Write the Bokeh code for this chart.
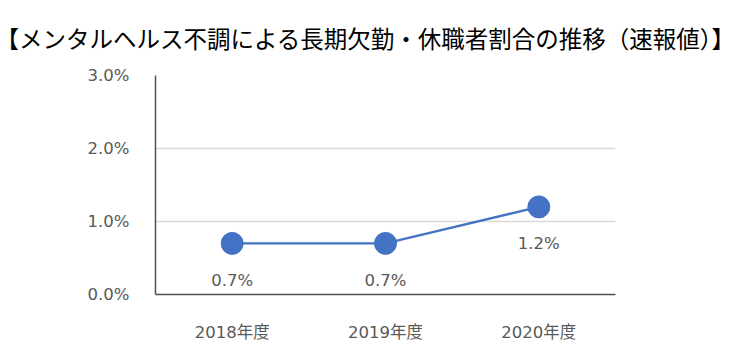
from bokeh.plotting import figure
from bokeh.models import ColumnDataSource, LabelSet, FixedTicker, PrintfTickFormatter, Title, Range1d
from bokeh.core.properties import value
from bokeh.embed import file_html
from bokeh.resources import INLINE

title_text = "【メンタルヘルス不調による長期欠勤・休職者割合の推移（速報値）】"
years = ["2018年度", "2019年度", "2020年度"]
rates = [0.7, 0.7, 1.2]
rate_labels = ["0.7%", "0.7%", "1.2%"]
y_ticks = [0, 1, 2, 3]

FONT = "DejaVu Sans, Noto Sans CJK JP"
TFONT = "Noto Sans CJK JP"
BLUE = "#4472C4"
GREY = "#595959"

src = ColumnDataSource(dict(x=years, y=rates, lab=rate_labels))

p = figure(width=734, height=355, x_range=years, y_range=Range1d(0, 3),
           output_backend="svg", toolbar_location=None,
           min_border_left=155, min_border_right=119, min_border_top=75, min_border_bottom=61)
p.outline_line_color = None
p.background_fill_color = "white"
p.border_fill_color = "white"

p.line("x", "y", source=src, line_color=BLUE, line_width=2.25)
p.scatter("x", "y", source=src, size=22, fill_color=BLUE, line_color=BLUE)

labels = LabelSet(x="x", y="y", text="lab", source=src, y_offset=-37,
                  text_align="center", text_baseline="middle",
                  text_font=value(FONT), text_font_size="16.5px", text_color=GREY)
p.add_layout(labels)

p.yaxis.ticker = FixedTicker(ticks=y_ticks)
p.yaxis.formatter = PrintfTickFormatter(format="%.1f%%")
for ax in (p.xaxis, p.yaxis):
    ax.major_tick_line_color = None
    ax.minor_tick_line_color = None
    ax.axis_line_color = "#505050"
    ax.axis_line_width = 1.5
    ax.major_label_text_font = FONT
    ax.major_label_text_font_size = "16.5px"
    ax.major_label_text_color = GREY
    ax.major_label_standoff = 20
p.xaxis.major_label_standoff = 22

p.xgrid.grid_line_color = None
p.ygrid.grid_line_color = "#D9D9D9"
p.ygrid.grid_line_width = 1.5

t = Title(text=title_text, text_font=TFONT, text_font_size="23.5px",
          text_font_style="normal", text_color="#000000", align="left",
          vertical_align="top", offset=-160, standoff=38)
p.add_layout(t, "above")

open("out.html", "w").write(file_html(p, INLINE))
